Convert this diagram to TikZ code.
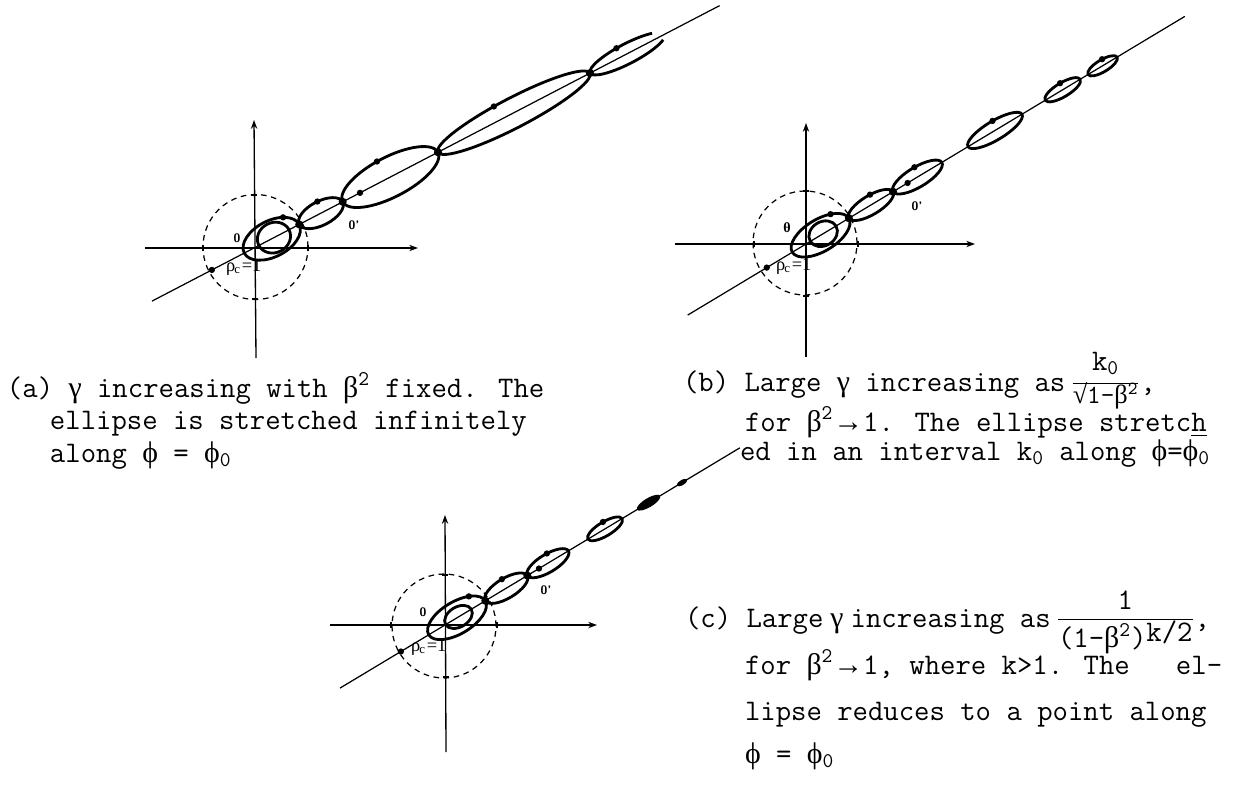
\documentclass[tikz,border=0pt]{standalone}
\usepackage{amsmath}
\usepackage{fontspec}
\newfontfamily\grk{Liberation Serif}
\newfontfamily\lblfont{Liberation Serif}
\newcommand\grtxt[1]{{\grk #1}}
\usetikzlibrary{arrows.meta}

\begin{document}
\begin{tikzpicture}[
    x=0.02cm, y=0.02cm,
    every node/.style={inner sep=0pt, outer sep=0pt},
    axline/.style={line width=0.75pt,-{Stealth[length=5pt,width=3.6pt]}},
    ray/.style={line width=0.7pt},
    orbit/.style={line width=1.6pt},
    rim/.style={line width=0.7pt,dash pattern=on 3.2pt off 2.6pt},
    axtick/.style={line width=0.9pt},
    arrowdot/.style={circle,fill,minimum size=3.6pt},
    knot/.style={circle,fill,minimum size=4.6pt},
    captext/.style={anchor=base west,font=\ttfamily\fontsize{17}{20}\selectfont},
    olbl/.style={font=\sffamily\bfseries\fontsize{7}{8}\selectfont},
    rholbl/.style={anchor=base west,font=\lblfont\fontsize{10.5}{12}\selectfont}
]
\useasboundingbox (0,0) rectangle (1244,-785);

% ---- (a) gamma increasing, beta^2 fixed
\coordinate (Oa) at (254,-248);
\coordinate (aW) at (145,-248);
\coordinate (aE) at (418,-248);
\coordinate (aS) at (256,-358);
\coordinate (aN) at (254,-120);
\draw[rim] (255.5,-247) circle[radius=52.5];
\draw[axline] (aW) -- (aE);
\draw[axline] (aS) -- (aN);
\foreach \p in {(203,-248),(308,-248)} \draw[axtick] \p ++(0,-3) -- ++(0,6);
\foreach \p in {(254,-195),(255,-299)} \draw[axtick] \p ++(-3,0) -- ++(6,0);
\begin{scope}[shift={(Oa)},rotate=27.5]
  \draw[ray] (-115,0) -- (525,0);
  \foreach \c/\a/\b in {20/31/18,22.5/17/15,75.5/24.5/12,153.7/53.7/20,293/85.7/15}
    \draw[orbit] (\c,0) ellipse[x radius=\a,y radius=\b];
  \draw[orbit] (421,0) ++(42:42 and 10) arc[start angle=42,end angle=335,x radius=42,y radius=10];
  \foreach \s [count=\i] in {51,100,207.4,378.8} \node[knot] (ka\i) at (\s,0) {};
  \path (20,0) ++(50:31 and 18) node[arrowdot] (da1) {};
  \path (75.5,0) ++(85:24.5 and 12) node[arrowdot] (da2) {};
  \path (153.7,0) ++(95:53.7 and 20) node[arrowdot] (da3) {};
  \path (293,0) ++(100:85.7 and 15) node[arrowdot] (da4) {};
  \path (421,0) ++(100:42 and 10) node[arrowdot] (da5) {};
  \node[arrowdot] (da6) at (119.5,0) {};
  \node[arrowdot] (da7) at (-47.5,0) {};
\end{scope}
\node[olbl] (lbOa) at (237,-238) {0};
\node[olbl] (lbPa) at (354,-225) {0'};
\node[rholbl] (rhoa) at (226,-271) {ρ\kern-0.5pt\textsubscript{c}\kern0.5pt=1};

% ---- (b) gamma ~ k0/sqrt(1-beta^2)
\coordinate (Ob) at (806,-244);
\coordinate (bW) at (675,-244);
\coordinate (bE) at (975,-244);
\coordinate (bS) at (806,-357);
\coordinate (bN) at (806,-123);
\draw[rim] (805,-243) circle[radius=52];
\draw[axline] (bW) -- (bE);
\draw[axline] (bS) -- (bN);
\foreach \p in {(754,-244),(858,-244)} \draw[axtick] \p ++(0,-3) -- ++(0,6);
\foreach \p in {(806,-191),(806,-296)} \draw[axtick] \p ++(-3,0) -- ++(6,0);
\begin{scope}[shift={(Ob)},rotate=31]
  \draw[ray] (-138,0) -- (442,0);
  \foreach \c/\a/\b in {17/33/16,20/15/12,75.8/25.8/9.5,130/28.5/10,220.5/31.5/9.5,299.5/20.5/7,346/17/6}
    \draw[orbit] (\c,0) ellipse[x radius=\a,y radius=\b];
  \foreach \s [count=\i] in {50,101.5} \node[knot] (kb\i) at (\s,0) {};
  \path (17,0) ++(54:33 and 16) node[arrowdot] (db1) {};
  \path (75.8,0) ++(80:25.8 and 9.5) node[arrowdot] (db2) {};
  \path (130,0) ++(85:28.5 and 10) node[arrowdot] (db3) {};
  \path (220.5,0) ++(85:31.5 and 9.5) node[arrowdot] (db4) {};
  \path (299.5,0) ++(87:20.5 and 7) node[arrowdot] (db5) {};
  \path (346,0) ++(80:17 and 6) node[arrowdot] (db6) {};
  \node[arrowdot] (db7) at (118.5,0) {};
  \node[arrowdot] (db8) at (-45.8,0) {};
\end{scope}
\node[olbl,font=\lblfont\bfseries\fontsize{8}{9}\selectfont] (lbOb) at (787,-228) {θ};
\node[olbl] (lbPb) at (917,-206) {0'};
\node[rholbl] (rhob) at (776,-270) {ρ\kern-0.5pt\textsubscript{c}\kern0.5pt=1};

% ---- (c) gamma ~ 1/(1-beta^2)^(k/2)
\coordinate (Oc) at (445,-625);
\coordinate (cW) at (330,-625);
\coordinate (cE) at (597,-625);
\coordinate (cS) at (446,-752);
\coordinate (cN) at (445,-515);
\draw[rim] (444,-626) circle[radius=52];
\draw[axline] (cW) -- (cE);
\draw[axline] (cS) -- (cN);
\foreach \p in {(391,-625),(497,-625)} \draw[axtick] \p ++(0,-3) -- ++(0,6);
\foreach \p in {(445,-575),(446,-677)} \draw[axtick] \p ++(-3,0) -- ++(6,0);
\begin{scope}[shift={(Oc)},rotate=31]
  \draw[ray] (-122.5,0) -- (344,0);
  \foreach \c/\a/\b in {14/33/16,15.7/15/10,71.5/24.5/10,120/24/9,186.7/20/7}
    \draw[orbit] (\c,0) ellipse[x radius=\a,y radius=\b];
  \fill (237.5,0) ellipse[x radius=13.5,y radius=4.5];
  \fill (276.5,0) ellipse[x radius=6,y radius=2.5];
  \foreach \s [count=\i] in {47,96} \node[knot] (kc\i) at (\s,0) {};
  \path (14,0) ++(50:33 and 16) node[arrowdot] (dc1) {};
  \path (71.5,0) ++(88:24.5 and 10) node[arrowdot] (dc2) {};
  \path (120,0) ++(80:24 and 9) node[arrowdot] (dc3) {};
  \path (186.7,0) ++(85:20 and 7) node[arrowdot] (dc4) {};
  \node[arrowdot] (dc5) at (109.6,0) {};
  \node[arrowdot] (dc6) at (-51.5,0) {};
\end{scope}
\node[olbl] (lbOc) at (423,-612) {0};
\node[olbl] (lbPc) at (546,-590) {0'};
\node[rholbl] (rhoc) at (411,-651) {ρ\kern-0.5pt\textsubscript{c}\kern0.5pt=1};

% ---- captions
\node[captext] (capa1) at (7,-397) {(a) \grtxt{γ} increasing with \grtxt{β}\textsuperscript{2} fixed. The};
\node[captext] (capa2) at (50,-429) {ellipse is stretched infinitely};
\node[captext] (capa3) at (50,-462) {along \grtxt{ϕ} = \grtxt{ϕ}\textsubscript{0}};
\node[captext] (capb1) at (683,-391) {(b) Large \grtxt{γ} increasing as\hspace{3pt}$\frac{\raisebox{5pt}{k\textsubscript{0}}}{\smash{\raisebox{-1pt}{\fontsize{15}{15}\selectfont\grtxt{√}1-\grtxt{β}\textsuperscript{2}}}}$,};
\node[captext] (capb2) at (745,-431) {for \grtxt{β}\textsuperscript{2}\grtxt{→}1. The ellipse stretc\underline{h}};
\node[captext] (capb3) at (740,-460) {ed in an interval k\textsubscript{0} along \grtxt{ϕ}=\grtxt{ϕ}\textsubscript{0}};
\node[captext] (capc1) at (685,-627) {(c) Large\hspace{4pt}\grtxt{γ}\hspace{4pt}increasing as\hspace{3pt}$\frac{\raisebox{3pt}{1}}{\mbox{(1-\grtxt{β}\textsuperscript{2})\raisebox{3pt}{k/2}}}$,};
\node[captext] (capc2) at (745,-674) {for \grtxt{β}\textsuperscript{2}\grtxt{→}1, where k>1. The\ \ \ el-};
\node[captext] (capc3) at (745,-720) {lipse reduces to a point along};
\node[captext] (capc4) at (745,-763) {\grtxt{ϕ} = \grtxt{ϕ}\textsubscript{0}};
\end{tikzpicture}
\end{document}
